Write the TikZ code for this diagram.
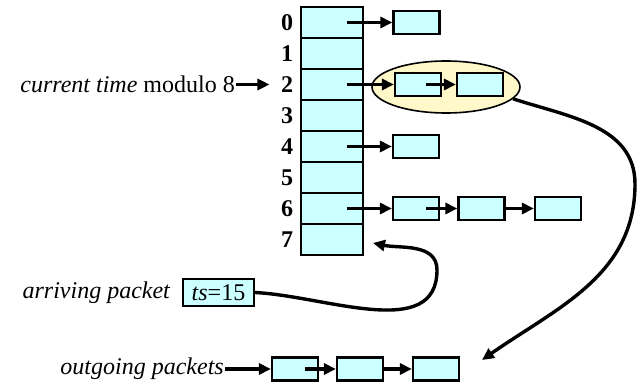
\documentclass[tikz,border=0pt]{standalone}
\usepackage{fontspec}
\setmainfont{Liberation Serif}
\usetikzlibrary{arrows.meta,positioning,shapes.geometric}

\definecolor{slotcyan}{HTML}{CCFFFF}
\definecolor{bunch}{HTML}{FFF8C8}

\tikzset{
  slot/.style={draw, line width=2.2pt, fill=slotcyan, minimum width=62pt, minimum height=31pt, inner sep=0pt},
  pkt/.style={draw, line width=2.2pt, fill=slotcyan, minimum width=46pt, minimum height=23pt, inner sep=0pt},
  ptr/.style={line width=3.4pt, -{Triangle[length=12pt,width=11pt]}},
}

\begin{document}
\begin{tikzpicture}[x=1pt, y=1pt, font=\fontsize{24}{28}\selectfont]
  \useasboundingbox (0,0) rectangle (638,389);

  % timer wheel: eight slots
  \foreach \i in {0,...,7}{
    \node[slot] (c\i) at (332,{366.5-31*\i}) {};
    \node (l\i) at (287,{366.5-31*\i}) {\textbf{\i}};
  }

  % packets due in the current slot
  \node[ellipse, draw, line width=1.6pt, fill=bunch, minimum width=148pt, minimum height=52pt] (ell) at (446,302) {};

  \node[pkt] (p0) at (416.5,366.5) {};
  \node[pkt] (p2a) at (418,304.5) {};
  \node[pkt] (p2b) at (480,304.5) {};
  \node[pkt] (p4) at (416,242.5) {};
  \node[pkt] (p6a) at (416,180.5) {};
  \node[pkt] (p6b) at (481.5,180.5) {};
  \node[pkt] (p6c) at (558,180.5) {};

  \draw[ptr] ([xshift=15pt]c0.center) -- (p0);
  \draw[ptr] ([xshift=15pt]c2.center) -- (p2a);
  \draw[ptr] ([xshift=8pt]p2a.center) -- (p2b);
  \draw[ptr] ([xshift=15pt]c4.center) -- (p4);
  \draw[ptr] ([xshift=15pt]c6.center) -- (p6a);
  \draw[ptr] ([xshift=10pt]p6a.center) -- (p6b);
  \draw[ptr] (p6b) -- (p6c);

  % clock pointer
  \node[anchor=east, inner sep=1pt] (now) at (236,304.5) {\textit{current time} modulo 8};
  \draw[ptr, shorten >=8pt] (now.east) -- (l2.west);

  % new arrival
  \node[pkt, minimum width=71pt, minimum height=27pt] (ts) at (218.5,96.5) {\textit{ts}=15};
  \node[left=8pt of ts] (arr) {\textit{arriving packet}};
  \coordinate (slotin) at (373,146);
  \draw[ptr] (ts.east) to[out=-3, in=-90] (437,119) to[out=90, in=-12] (slotin);

  % sent packets
  \node[pkt] (o1) at (295,20) {};
  \node[pkt] (o2) at (360,20) {};
  \node[pkt] (o3) at (436,20) {};
  \node[anchor=east, inner sep=1pt] (outg) at (225,20) {\textit{outgoing packets}};
  \draw[ptr] (outg) -- (o1);
  \draw[ptr] ([xshift=10pt]o1.center) -- (o2);
  \draw[ptr] (o2) -- (o3);

  \coordinate (drain) at (482,29);
  \draw[ptr] (ell.-10) to[out=-18, in=90] (635,205) to[out=-90, in=35] (drain);
\end{tikzpicture}
\end{document}
